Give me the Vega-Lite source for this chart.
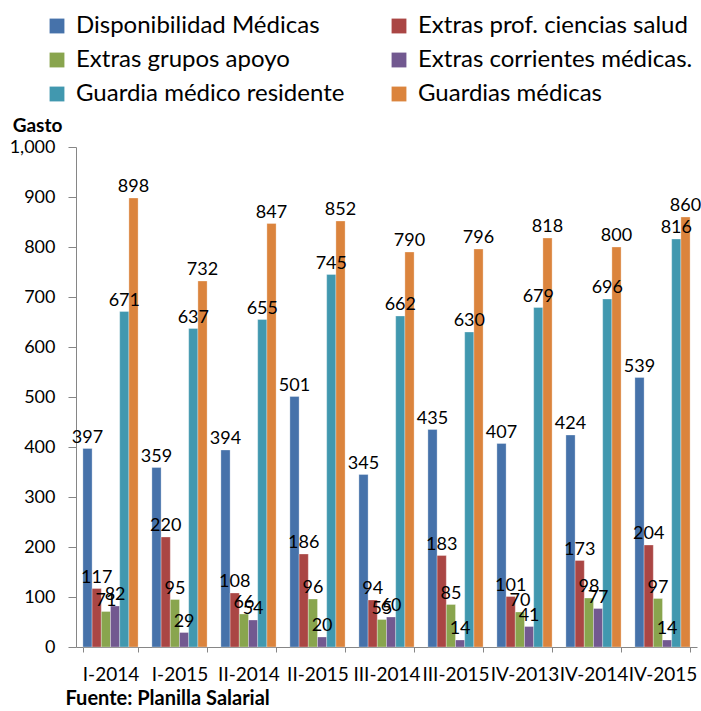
{
  "$schema": "https://vega.github.io/schema/vega-lite/v6.json",
  "autosize": "none",
  "width": 621,
  "height": 500,
  "padding": {"left": 76, "top": 147, "right": 4, "bottom": 64},
  "background": "white",
  "config": {
    "font": "Lato",
    "view": {"stroke": null},
    "axis": {"grid": false}
  },
  "data": {
    "values": [
      {"p": "I-2014", "s": "Disponibilidad  Médicas", "v": 397},
      {"p": "I-2014", "s": "Extras prof. ciencias salud", "v": 117},
      {"p": "I-2014", "s": "Extras grupos apoyo", "v": 71},
      {"p": "I-2014", "s": "Extras corrientes médicas.", "v": 82},
      {"p": "I-2014", "s": "Guardia médico residente", "v": 671},
      {"p": "I-2014", "s": "Guardias médicas", "v": 898},
      {"p": "I-2015", "s": "Disponibilidad  Médicas", "v": 359},
      {"p": "I-2015", "s": "Extras prof. ciencias salud", "v": 220},
      {"p": "I-2015", "s": "Extras grupos apoyo", "v": 95},
      {"p": "I-2015", "s": "Extras corrientes médicas.", "v": 29},
      {"p": "I-2015", "s": "Guardia médico residente", "v": 637},
      {"p": "I-2015", "s": "Guardias médicas", "v": 732},
      {"p": "II-2014", "s": "Disponibilidad  Médicas", "v": 394},
      {"p": "II-2014", "s": "Extras prof. ciencias salud", "v": 108},
      {"p": "II-2014", "s": "Extras grupos apoyo", "v": 66},
      {"p": "II-2014", "s": "Extras corrientes médicas.", "v": 54},
      {"p": "II-2014", "s": "Guardia médico residente", "v": 655},
      {"p": "II-2014", "s": "Guardias médicas", "v": 847},
      {"p": "II-2015", "s": "Disponibilidad  Médicas", "v": 501},
      {"p": "II-2015", "s": "Extras prof. ciencias salud", "v": 186},
      {"p": "II-2015", "s": "Extras grupos apoyo", "v": 96},
      {"p": "II-2015", "s": "Extras corrientes médicas.", "v": 20},
      {"p": "II-2015", "s": "Guardia médico residente", "v": 745},
      {"p": "II-2015", "s": "Guardias médicas", "v": 852},
      {"p": "III-2014", "s": "Disponibilidad  Médicas", "v": 345},
      {"p": "III-2014", "s": "Extras prof. ciencias salud", "v": 94},
      {"p": "III-2014", "s": "Extras grupos apoyo", "v": 55},
      {"p": "III-2014", "s": "Extras corrientes médicas.", "v": 60},
      {"p": "III-2014", "s": "Guardia médico residente", "v": 662},
      {"p": "III-2014", "s": "Guardias médicas", "v": 790},
      {"p": "III-2015", "s": "Disponibilidad  Médicas", "v": 435},
      {"p": "III-2015", "s": "Extras prof. ciencias salud", "v": 183},
      {"p": "III-2015", "s": "Extras grupos apoyo", "v": 85},
      {"p": "III-2015", "s": "Extras corrientes médicas.", "v": 14},
      {"p": "III-2015", "s": "Guardia médico residente", "v": 630},
      {"p": "III-2015", "s": "Guardias médicas", "v": 796},
      {"p": "IV-2013", "s": "Disponibilidad  Médicas", "v": 407},
      {"p": "IV-2013", "s": "Extras prof. ciencias salud", "v": 101},
      {"p": "IV-2013", "s": "Extras grupos apoyo", "v": 70},
      {"p": "IV-2013", "s": "Extras corrientes médicas.", "v": 41},
      {"p": "IV-2013", "s": "Guardia médico residente", "v": 679},
      {"p": "IV-2013", "s": "Guardias médicas", "v": 818},
      {"p": "IV-2014", "s": "Disponibilidad  Médicas", "v": 424},
      {"p": "IV-2014", "s": "Extras prof. ciencias salud", "v": 173},
      {"p": "IV-2014", "s": "Extras grupos apoyo", "v": 98},
      {"p": "IV-2014", "s": "Extras corrientes médicas.", "v": 77},
      {"p": "IV-2014", "s": "Guardia médico residente", "v": 696},
      {"p": "IV-2014", "s": "Guardias médicas", "v": 800},
      {"p": "IV-2015", "s": "Disponibilidad  Médicas", "v": 539},
      {"p": "IV-2015", "s": "Extras prof. ciencias salud", "v": 204},
      {"p": "IV-2015", "s": "Extras grupos apoyo", "v": 97},
      {"p": "IV-2015", "s": "Extras corrientes médicas.", "v": 14},
      {"p": "IV-2015", "s": "Guardia médico residente", "v": 816},
      {"p": "IV-2015", "s": "Guardias médicas", "v": 860}
    ]
  },
  "encoding": {
    "x": {
      "field": "p", "type": "nominal", "sort": null,
      "scale": {"paddingInner": 0.2, "paddingOuter": 0.1},
      "axis": {
        "title": "Fuente: Planilla Salarial",
        "titleFont": "Lato", "titleFontSize": 20, "titleFontWeight": "bold", "titleColor": "#000000",
        "titleAnchor": "start", "titleAlign": "left", "titleBaseline": "alphabetic",
        "titleX": -11, "titleY": 57,
        "labelAngle": 0, "labelFontSize": 19, "labelColor": "#000000", "labelPadding": 13,
        "labelOverlap": false, "labelFont": "Lato",
        "tickBand": "extent", "tickSize": 5, "tickColor": "#868686",
        "domainColor": "#868686"
      }
    },
    "xOffset": {
      "field": "s", "type": "nominal", "sort": null,
      "scale": {"paddingInner": 0, "paddingOuter": 0}
    },
    "y": {
      "field": "v", "type": "quantitative",
      "scale": {"domain": [0, 1000], "nice": false},
      "axis": {
        "title": "Gasto", "titleAngle": 0, "titleFontSize": 19, "titleFontWeight": "bold",
        "titleColor": "#000000", "titleAlign": "center", "titleBaseline": "alphabetic",
        "titleX": -39, "titleY": -16,
        "values": [0, 100, 200, 300, 400, 500, 600, 700, 800, 900, 1000],
        "format": ",d", "labelFontSize": 18, "labelColor": "#000000", "labelPadding": 13,
        "tickSize": 8, "tickColor": "#868686", "domainColor": "#868686"
      }
    }
  },
  "layer": [
    {
      "mark": {"type": "bar", "stroke": "white", "strokeWidth": 0.5, "strokeOpacity": 0.6},
      "encoding": {
        "color": {
          "field": "s", "type": "nominal", "sort": null,
          "scale": {
            "domain": ["Disponibilidad  Médicas", "Extras grupos apoyo", "Guardia médico residente", "Extras prof. ciencias salud", "Extras corrientes médicas.", "Guardias médicas"],
            "range": ["#4672AA", "#89A54E", "#4198AF", "#AA4644", "#725990", "#DB843D"]
          },
          "legend": {
            "title": null, "orient": "none", "legendX": -31, "legendY": -133,
            "columns": 2, "gridAlign": "all", "columnPadding": 36, "rowPadding": 10,
            "symbolType": "square", "symbolSize": 220, "symbolStrokeWidth": 0,
            "labelFontSize": 24, "labelColor": "#000000", "labelOffset": 7, "labelLimit": 400,
            "labelFont": "Lato"
          }
        }
      }
    },
    {
      "mark": {"type": "text", "baseline": "middle", "dy": -11, "fontSize": 18, "color": "#000000"},
      "encoding": {
        "text": {"field": "v", "type": "quantitative"}
      }
    }
  ]
}
